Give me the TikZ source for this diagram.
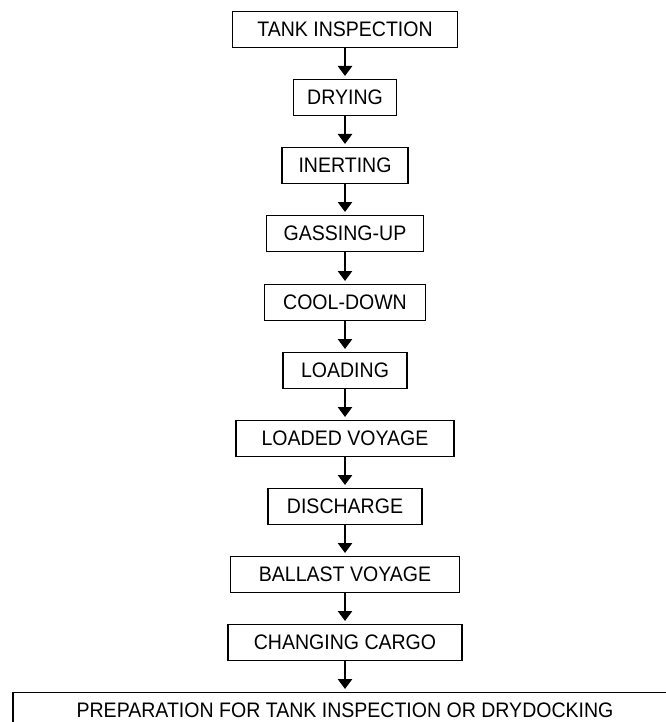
\documentclass[tikz,border=0pt]{standalone}
\usepackage{fontspec}
\usepackage{graphicx}
\setmainfont{Liberation Sans}
\usetikzlibrary{arrows.meta}
\newcommand{\narrowtxt}[1]{\scalebox{0.93}[1]{#1}}
\begin{document}
\begin{tikzpicture}[x=1pt,y=1pt,
  stage/.style={draw, line width=1.2pt, minimum height=36pt, inner sep=0pt,
    font=\fontsize{21}{24}\selectfont, anchor=north},
  flow/.style={line width=2.6pt, -{Triangle[width=14pt,length=10pt]}, shorten >=3pt}]
\useasboundingbox (0,0) rectangle (665,-722);
\node[stage, minimum width=225pt] (s1) at (345,-11) {\narrowtxt{TANK INSPECTION}};
\node[stage, minimum width=103pt] (s2) at (345,-79) {\narrowtxt{DRYING}};
\node[stage, minimum width=126pt] (s3) at (345,-147) {\narrowtxt{INERTING}};
\node[stage, minimum width=157pt] (s4) at (345,-215) {\narrowtxt{GASSING-UP}};
\node[stage, minimum width=161pt] (s5) at (345,-284) {\narrowtxt{COOL-DOWN}};
\node[stage, minimum width=124pt] (s6) at (345,-352) {\narrowtxt{LOADING}};
\node[stage, minimum width=218pt] (s7) at (345,-420) {\narrowtxt{LOADED VOYAGE}};
\node[stage, minimum width=154pt] (s8) at (345,-488) {\narrowtxt{DISCHARGE}};
\node[stage, minimum width=229pt] (s9) at (345,-556) {\narrowtxt{BALLAST VOYAGE}};
\node[stage, minimum width=234pt] (s10) at (345,-624) {\narrowtxt{CHANGING CARGO}};
\node[stage, minimum width=664pt] (s11) at (345,-692) {\narrowtxt{PREPARATION FOR TANK INSPECTION OR DRYDOCKING}};
\foreach \a/\b in {s1/s2,s2/s3,s3/s4,s4/s5,s5/s6,s6/s7,s7/s8,s8/s9,s9/s10,s10/s11}
  \draw[flow] (\a.south) -- (\b.north);
\end{tikzpicture}
\end{document}
